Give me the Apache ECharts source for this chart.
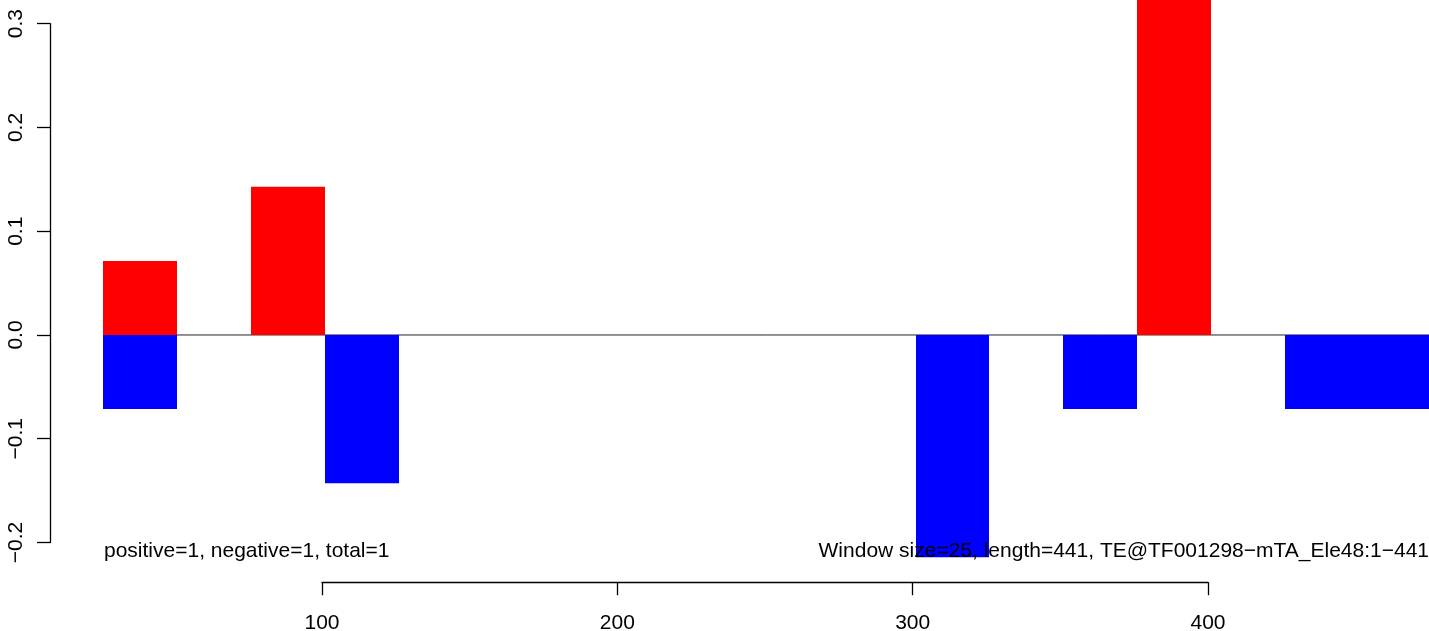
<!DOCTYPE html>
<html>
<head>
<meta charset="utf-8">
<script src="https://cdn.jsdelivr.net/npm/echarts@6/dist/echarts.min.js"></script>
<style>html,body{margin:0;padding:0;background:#fff;}#c{width:1429px;height:631px;}</style>
</head>
<body>
<div id="c"></div>
<script>
// ---- data ----
var windowSize = 25;
var posStarts = [26, 76, 376];
var posValues = [0.0714, 0.1429, 0.3571];
var negStarts = [26, 101, 301, 351, 426, 451];
var negValues = [-0.0714, -0.1429, -0.2143, -0.0714, -0.0714, -0.0714];
var baseline = [[26, 0], [480, 0]];
var yTicks = [-0.2, -0.1, 0.0, 0.1, 0.2, 0.3];
var xTicks = [100, 200, 300, 400];
var leftNote = 'positive=1, negative=1, total=1';
var rightNote = 'Window size=25, length=441, TE@TF001298\u2212mTA_Ele48:1\u2212441';

var FONT = "'Liberation Sans', Arial, Helvetica, sans-serif";

function toData(starts, vals) {
  return starts.map(function (s, i) { return [s, s + windowSize, vals[i]]; });
}
function barRender(color) {
  return function (params, api) {
    var p0 = api.coord([api.value(0), 0]);
    var p1 = api.coord([api.value(1), api.value(2)]);
    var x0 = Math.round(p0[0]), x1 = Math.round(p1[0]);
    return {
      type: 'rect',
      shape: { x: x0, y: Math.min(p0[1], p1[1]), width: x1 - x0, height: Math.abs(p1[1] - p0[1]) },
      style: { fill: color }
    };
  };
}
function fmt(v) {
  var s = (Math.abs(v) < 1e-9 ? 0 : v).toFixed(1);
  return s.replace('-', '\u2212');
}

var chart = echarts.init(document.getElementById('c'), null, { renderer: 'canvas' });
chart.setOption({
  animation: false,
  backgroundColor: '#ffffff',
  textStyle: { fontFamily: FONT },
  grid: [
    { left: 50, right: 0, top: 0, bottom: 48 },
    { left: 50, width: 1, top: 23.7, height: 518.8 },
    { left: 322, width: 886, top: 582, height: 1 }
  ],
  xAxis: [
    { gridIndex: 0, type: 'value', min: 7.89, max: 474.9, show: false },
    { gridIndex: 1, type: 'value', min: 0, max: 1, show: false },
    { gridIndex: 2, type: 'value', min: xTicks[0], max: xTicks[xTicks.length - 1], interval: 100, position: 'bottom',
      axisLine: { show: true, lineStyle: { color: '#000', width: 1.3 } },
      axisTick: { show: true, inside: false, length: 13, lineStyle: { color: '#000', width: 1.3 } },
      axisLabel: { show: true, margin: 30, fontSize: 21, color: '#000', fontFamily: FONT },
      splitLine: { show: false } }
  ],
  yAxis: [
    { gridIndex: 0, type: 'value', min: -0.2390, max: 0.3228, show: false },
    { gridIndex: 1, type: 'value', min: yTicks[0], max: yTicks[yTicks.length - 1], interval: 0.1, position: 'left',
      axisLine: { show: true, lineStyle: { color: '#000', width: 1.3 } },
      axisTick: { show: true, inside: false, length: 13, lineStyle: { color: '#000', width: 1.3 } },
      axisLabel: { show: true, rotate: 90, margin: 23, fontSize: 21, color: '#000', fontFamily: FONT, formatter: fmt },
      splitLine: { show: false } },
    { gridIndex: 2, type: 'value', show: false }
  ],
  graphic: [
    { type: 'text', z: 100, left: 104, top: 541, style: { text: leftNote, font: '21px ' + FONT, fill: '#000' } },
    { type: 'text', z: 100, right: 0, top: 541, style: { text: rightNote, font: '21px ' + FONT, fill: '#000' } }
  ],
  series: [
    { type: 'line', xAxisIndex: 0, yAxisIndex: 0, data: baseline, symbol: 'none', silent: true,
      lineStyle: { color: '#222', width: 1 }, z: 3 },
    { type: 'custom', xAxisIndex: 0, yAxisIndex: 0, data: toData(posStarts, posValues), renderItem: barRender('#FF0000'), z: 5 },
    { type: 'custom', xAxisIndex: 0, yAxisIndex: 0, data: toData(negStarts, negValues), renderItem: barRender('#0000FF'), z: 5 }
  ]
});
</script>
</body>
</html>
